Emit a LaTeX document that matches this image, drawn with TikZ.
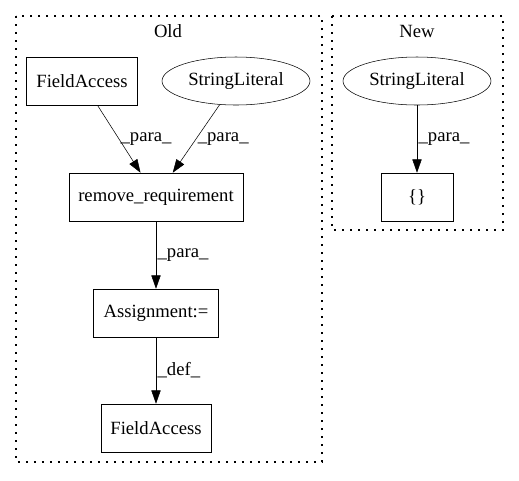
\documentclass[tikz,border=0pt]{standalone}
\usepackage{fontspec}
\setmainfont{Liberation Serif}
\usetikzlibrary{arrows.meta,shapes.geometric}

\begin{document}
\begin{tikzpicture}[x=0.75pt, y=-0.75pt, font=\fontsize{14}{16}\selectfont,
    box/.style={draw, rectangle, minimum height=36pt, inner sep=0pt},
    oval/.style={draw, ellipse, minimum width=111pt, minimum height=36pt, inner sep=0pt},
    flow/.style={-{Triangle[length=10pt, width=7pt]}},
    lbl/.style={right, inner sep=1pt},
    cluster/.style={dash pattern=on 1.2pt off 4.8pt, line width=1pt}]
    \useasboundingbox (0,0) rectangle (519,480);

    % Clusters
    \draw[cluster] (16,16) rectangle (322,462);
    \node (oldtitle) at (168,31) {Old};
    \draw[cluster] (332,16) rectangle (503,230);
    \node (newtitle) at (417,31) {New};

    % Old graph
    \node[box, minimum width=83pt] (fieldtop) at (82,81) {FieldAccess};
    \node[oval] (stringold) at (236,81) {StringLiteral};
    \node[box, minimum width=130.5pt] (removereq) at (156,197) {remove\_requirement};
    \node[box, minimum width=94pt] (assign) at (156,313) {Assignment:=};
    \node[box, minimum width=82.5pt] (fieldbot) at (156,428) {FieldAccess};

    \draw[flow] (fieldtop) -- node[lbl] {\_para\_} (removereq);
    \draw[flow] (stringold) -- node[lbl] {\_para\_} (removereq);
    \draw[flow] (removereq) -- node[lbl] {\_para\_} (assign);
    \draw[flow] (assign) -- node[lbl] {\_def\_} (fieldbot);

    % New graph
    \node[oval] (stringnew) at (417,81) {StringLiteral};
    \node[box, minimum width=54pt] (braces) at (417,197) {\{\}};

    \draw[flow] (stringnew) -- node[lbl] {\_para\_} (braces);
\end{tikzpicture}
\end{document}
